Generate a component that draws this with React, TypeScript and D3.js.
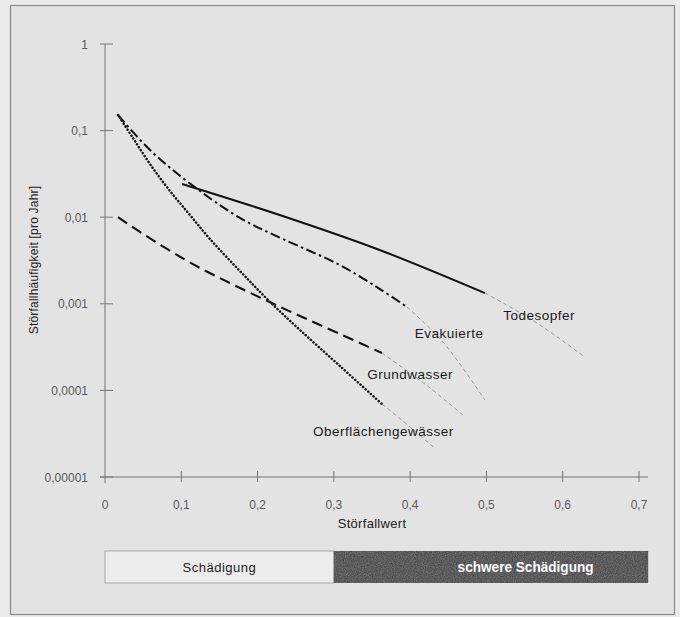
import React, { useEffect, useRef } from 'react';
import * as d3 from 'd3';

interface Pt {
  x: number;
  f: number;
}

// Störfallwert / Störfallhäufigkeit
const todesopfer: Pt[] = [
  { x: 0.101, f: 0.0242 },
  { x: 0.229, f: 0.0106 },
  { x: 0.36, f: 0.00418 },
  { x: 0.498, f: 0.00133 },
];
const todesopferExt: Pt[] = [
  { x: 0.498, f: 0.00133 },
  { x: 0.522, f: 0.00102 },
  { x: 0.57, f: 0.00057 },
  { x: 0.629, f: 0.000243 },
];

const evakuierte: Pt[] = [
  { x: 0.017, f: 0.1514 },
  { x: 0.059, f: 0.0597 },
  { x: 0.1088, f: 0.0255 },
  { x: 0.1769, f: 0.0098 },
  { x: 0.2333, f: 0.0056 },
  { x: 0.308, f: 0.0028 },
  { x: 0.3604, f: 0.00148 },
  { x: 0.3958, f: 0.00092 },
];
const evakuierteExt: Pt[] = [
  { x: 0.3958, f: 0.00092 },
  { x: 0.443, f: 0.000362 },
  { x: 0.498, f: 0.0000775 },
];

const grundwasser: Pt[] = [
  { x: 0.017, f: 0.01 },
  { x: 0.0459, f: 0.00675 },
  { x: 0.0813, f: 0.0043 },
  { x: 0.1245, f: 0.00259 },
  { x: 0.207, f: 0.00114 },
  { x: 0.2556, f: 0.000723 },
  { x: 0.308, f: 0.000448 },
  { x: 0.363, f: 0.00027 },
];
const grundwasserExt: Pt[] = [
  { x: 0.363, f: 0.00027 },
  { x: 0.423, f: 0.000112 },
  { x: 0.469, f: 0.000052 },
];

const oberflaeche: Pt[] = [
  { x: 0.017, f: 0.1514 },
  { x: 0.0367, f: 0.0821 },
  { x: 0.059, f: 0.0411 },
  { x: 0.0852, f: 0.02007 },
  { x: 0.1114, f: 0.0106 },
  { x: 0.1376, f: 0.0056 },
  { x: 0.1769, f: 0.00239 },
  { x: 0.2136, f: 0.00111 },
  { x: 0.2556, f: 0.000498 },
  { x: 0.308, f: 0.000191 },
  { x: 0.363, f: 0.0000697 },
];
const oberflaecheExt: Pt[] = [
  { x: 0.363, f: 0.0000697 },
  { x: 0.389, f: 0.0000455 },
  { x: 0.432, f: 0.0000216 },
];

const yTicks = [1, 0.1, 0.01, 0.001, 0.0001, 0.00001];
const yTickLabels = ['1', '0,1', '0,01', '0,001', '0,0001', '0,00001'];
const xTicks = [0, 0.1, 0.2, 0.3, 0.4, 0.5, 0.6, 0.7];

const seriesLabels = [
  { text: 'Todesopfer', x: 0.569, f: 0.00065 },
  { text: 'Evakuierte', x: 0.451, f: 0.000403 },
  { text: 'Grundwasser', x: 0.4, f: 0.000135 },
  { text: 'Oberflächengewässer', x: 0.365, f: 0.0000297 },
];

const damageBands = [
  { label: 'Schädigung', from: 0, to: 0.3 },
  { label: 'schwere Schädigung', from: 0.3, to: 0.712 },
];

const App: React.FC = () => {
  const svgRef = useRef<SVGSVGElement>(null);

  useEffect(() => {
    if (!svgRef.current) return;
    const W = 680;
    const H = 617;
    const svg = d3.select(svgRef.current);
    svg.selectAll('*').remove();
    svg.attr('width', W).attr('height', H);

    const font = 'Liberation Sans, Arial, Helvetica, sans-serif';

    // Background and frame
    svg.append('rect').attr('width', W).attr('height', H).attr('fill', '#eaeaea');
    svg.append('rect')
      .attr('x', 10.5).attr('y', 5.5)
      .attr('width', 664).attr('height', 609)
      .attr('fill', '#e3e3e3')
      .attr('stroke', '#8a8a8a')
      .attr('stroke-width', 1.2);

    const x = d3.scaleLinear().domain([0, 0.7]).range([105, 639]);
    const y = d3.scaleLog().domain([1, 0.00001]).range([44, 477]);

    // Axes
    const axisColor = '#777';
    svg.append('line')
      .attr('x1', 105).attr('x2', 105).attr('y1', y(1)).attr('y2', 483)
      .attr('stroke', axisColor).attr('stroke-width', 1);
    svg.append('line')
      .attr('x1', 100).attr('x2', 648).attr('y1', y(0.00001)).attr('y2', y(0.00001))
      .attr('stroke', axisColor).attr('stroke-width', 1);

    yTicks.forEach((t, i) => {
      svg.append('line')
        .attr('x1', 100).attr('x2', 113).attr('y1', y(t)).attr('y2', y(t))
        .attr('stroke', axisColor);
      svg.append('text')
        .attr('x', 88).attr('y', y(t) + 4.5)
        .attr('text-anchor', 'end')
        .attr('font-family', font).attr('font-size', 12)
        .attr('fill', '#5a5a5a')
        .text(yTickLabels[i]);
    });

    xTicks.forEach(t => {
      if (t > 0) {
        svg.append('line')
          .attr('x1', x(t)).attr('x2', x(t)).attr('y1', 471).attr('y2', 482)
          .attr('stroke', axisColor);
      }
      svg.append('text')
        .attr('x', x(t)).attr('y', 509)
        .attr('text-anchor', 'middle')
        .attr('font-family', font).attr('font-size', 12)
        .attr('fill', '#5a5a5a')
        .text(String(t).replace('.', ','));
    });

    // Axis titles
    svg.append('text')
      .attr('transform', `translate(38, 260) rotate(-90)`)
      .attr('text-anchor', 'middle')
      .attr('font-family', font).attr('font-size', 12)
      .attr('fill', '#222')
      .attr('letter-spacing', 0.2)
      .text('Störfallhäufigkeit  [pro Jahr]');
    svg.append('text')
      .attr('x', 372).attr('y', 528)
      .attr('text-anchor', 'middle')
      .attr('font-family', font).attr('font-size', 13)
      .attr('fill', '#222')
      .attr('letter-spacing', 0.3)
      .text('Störfallwert');

    // Lines
    const line = d3.line<Pt>()
      .x(d => x(d.x))
      .y(d => y(d.f))
      .curve(d3.curveCatmullRom.alpha(0.5));

    const drawMain = (pts: Pt[], dash: string | null, width: number, cap: string) => {
      svg.append('path')
        .attr('d', line(pts) || '')
        .attr('fill', 'none')
        .attr('stroke', '#111')
        .attr('stroke-width', width)
        .attr('stroke-linecap', cap)
        .attr('stroke-dasharray', dash);
    };
    const drawExt = (pts: Pt[]) => {
      svg.append('path')
        .attr('d', line(pts) || '')
        .attr('fill', 'none')
        .attr('stroke', '#8c8c8c')
        .attr('stroke-width', 0.9)
        .attr('stroke-dasharray', '4 3');
    };

    drawExt(todesopferExt);
    drawExt(evakuierteExt);
    drawExt(grundwasserExt);
    drawExt(oberflaecheExt);

    drawMain(oberflaeche, '0.1 3.4', 2.5, 'round');
    drawMain(grundwasser, '11 6', 2.1, 'butt');
    drawMain(evakuierte, '10 3.5 2.5 3.5', 2, 'butt');
    drawMain(todesopfer, null, 2, 'butt');

    seriesLabels.forEach(l => {
      svg.append('text')
        .attr('x', x(l.x)).attr('y', y(l.f))
        .attr('text-anchor', 'middle')
        .attr('font-family', font).attr('font-size', 13.5)
        .attr('fill', '#1a1a1a')
        .attr('letter-spacing', 0.5)
        .text(l.text);
    });

    // Damage bar
    const barY = 551;
    const barH = 32;
    const defs = svg.append('defs');
    const filt = defs.append('filter').attr('id', 'grain');
    filt.append('feTurbulence')
      .attr('type', 'fractalNoise').attr('baseFrequency', 0.9).attr('numOctaves', 2).attr('result', 'n');
    filt.append('feColorMatrix')
      .attr('in', 'n').attr('type', 'matrix')
      .attr('values', '0 0 0 0 0.55  0 0 0 0 0.55  0 0 0 0 0.55  0 0 0 0.5 0')
      .attr('result', 'g');
    filt.append('feComposite').attr('in', 'g').attr('in2', 'SourceGraphic').attr('operator', 'in');

    damageBands.forEach((b, i) => {
      const bx = x(b.from);
      const bw = x(b.to) - x(b.from);
      svg.append('rect')
        .attr('x', bx).attr('y', barY).attr('width', bw).attr('height', barH)
        .attr('fill', i === 0 ? '#ececec' : '#3a3a3a')
        .attr('stroke', i === 0 ? '#9a9a9a' : 'none')
        .attr('stroke-width', 0.8);
      if (i === 1) {
        svg.append('rect')
          .attr('x', bx).attr('y', barY).attr('width', bw).attr('height', barH)
          .attr('fill', '#3a3a3a')
          .attr('filter', 'url(#grain)');
      }
      const t = svg.append('text')
        .attr('x', i === 0 ? bx + bw / 2 : bx + bw * 0.61)
        .attr('y', barY + barH / 2 + 5)
        .attr('text-anchor', 'middle')
        .attr('font-family', font)
        .attr('font-size', i === 0 ? 13 : 15)
        .attr('font-weight', i === 0 ? 'normal' : 'bold')
        .attr('fill', i === 0 ? '#222' : '#fff')
        .attr('letter-spacing', i === 0 ? 0.5 : 0)
        .text(b.label);
      if (i === 1) {
        // condensed bold look
        t.attr('textLength', 136).attr('lengthAdjust', 'spacingAndGlyphs');
      }
    });
  }, []);

  return (
    <div style={{ position: 'absolute', left: 0, top: 0 }}>
      <svg ref={svgRef}></svg>
    </div>
  );
};

export default App;
